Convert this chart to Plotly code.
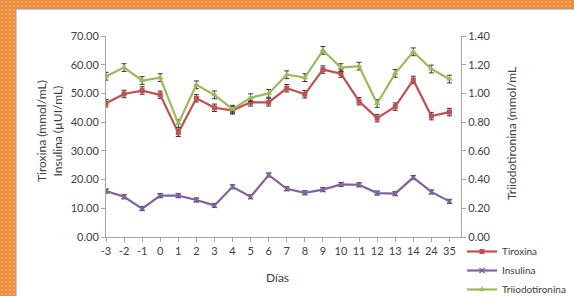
import plotly.graph_objects as go

W, H = 574, 296

dias = ["-3", "-2", "-1", "0", "1", "2", "3", "4", "5", "6", "7", "8", "9", "10", "11", "12", "13", "14", "24", "35"]
tiroxina = [46.6, 49.8, 51.0, 49.5, 36.3, 48.3, 45.0, 44.1, 46.9, 46.9, 51.8, 49.7, 58.3, 56.9, 47.3, 41.4, 45.4, 54.7, 42.1, 43.5]
tiroxina_err = [1.3] * 20
insulina = [16.0, 14.0, 9.9, 14.4, 14.4, 12.9, 11.0, 17.5, 14.0, 21.6, 16.8, 15.4, 16.5, 18.3, 18.2, 15.3, 15.1, 20.7, 15.7, 12.4]
insulina_err = [0.7] * 20
triiodo = [1.12, 1.18, 1.09, 1.11, 0.79, 1.06, 0.99, 0.89, 0.97, 1.00, 1.13, 1.11, 1.30, 1.18, 1.19, 0.93, 1.14, 1.29, 1.17, 1.10]
triiodo_err = [0.027] * 20

left_ticks = [0, 10, 20, 30, 40, 50, 60, 70]
right_ticks = [0, 0.2, 0.4, 0.6, 0.8, 1.0, 1.2, 1.4]

RED, PURPLE, GREEN = "#C0504D", "#8064A2", "#9BBB59"
TXT = "#404040"
FONT = "Lato"

def px(x):
    return x / W

def py(y):
    return 1 - y / H

fig = go.Figure()

def err(vals):
    return dict(type="data", array=vals, color="#3a3a3a", thickness=1, width=2.5)

fig.add_trace(go.Scatter(x=dias, y=tiroxina, name="Tiroxina", mode="lines+markers",
                         line=dict(color=RED, width=2.2),
                         marker=dict(symbol="square", size=5, color=RED),
                         error_y=err(tiroxina_err)))
fig.add_trace(go.Scatter(x=dias, y=insulina, name="Insulina", mode="lines+markers",
                         line=dict(color=PURPLE, width=2.2),
                         marker=dict(symbol="x-thin", size=5, color=PURPLE, line=dict(color=PURPLE, width=1.5)),
                         error_y=err(insulina_err)))
fig.add_trace(go.Scatter(x=dias, y=triiodo, name="Triiodotironina", mode="lines+markers",
                         line=dict(color=GREEN, width=2.2),
                         marker=dict(symbol="triangle-up", size=6, color=GREEN),
                         error_y=err(triiodo_err), yaxis="y2"))

# decorative dotted border pattern
bx, by = [], []
for yy in range(2, H, 4):
    for xx in range(2, 15, 4):
        bx.append(xx); by.append(yy)
for xx in range(18, W, 4):
    for yy in (2, 6):
        bx.append(xx); by.append(yy)
fig.add_trace(go.Scatter(x=bx, y=by, mode="markers", xaxis="x3", yaxis="y3",
                         marker=dict(symbol="square", size=1.6, color="#F7BC8A"),
                         hoverinfo="skip", showlegend=False))

axis_line = "#A6A6A6"
common = dict(showline=True, linecolor=axis_line, linewidth=1,
              ticks="outside", ticklen=4, tickcolor=axis_line,
              showgrid=False, zeroline=False, tickfont=dict(size=11, color=TXT),
              automargin=False)
fig.update_layout(
    width=W, height=H,
    margin=dict(l=0, r=0, t=0, b=0, autoexpand=False),
    paper_bgcolor="#EF8F3E",
    plot_bgcolor="rgba(0,0,0,0)",
    font=dict(family=FONT, size=11, color=TXT),
    showlegend=True,
    legend=dict(x=px(462), y=py(237), xanchor="left", yanchor="top",
                bgcolor="rgba(0,0,0,0)", font=dict(family=FONT, size=10, color=TXT),
                itemwidth=30, tracegroupgap=0),
    xaxis=dict(type="category", domain=[px(106), px(461)], range=[0, 19.64],
               anchor="y", **common),
    yaxis=dict(domain=[py(237), py(36)], range=[0, 70], tickvals=left_ticks,
               tickformat=".2f", **common),
    yaxis2=dict(domain=[py(237), py(36)], range=[0, 1.4], tickvals=right_ticks,
                tickformat=".2f", overlaying="y", side="right", anchor="x", **common),
    xaxis3=dict(domain=[0, 1], range=[0, W], visible=False, anchor="y3", fixedrange=True),
    yaxis3=dict(domain=[0, 1], range=[H, 0], visible=False, anchor="x3", fixedrange=True),
    shapes=[
        dict(type="rect", xref="paper", yref="paper", x0=px(16), x1=1.01, y0=-0.01, y1=py(9),
             fillcolor="white", line=dict(color="#9A9A9A", width=1), layer="below"),
    ],
    annotations=[
        dict(text="Días", x=px(277), y=py(277), xref="paper", yref="paper",
             xanchor="center", yanchor="middle",
             showarrow=False, font=dict(size=12, color=TXT)),
        dict(text="Tiroxina (mmol/mL)<br>Insulina (µUI/mL)", x=px(49), y=py(131),
             xref="paper", yref="paper", showarrow=False, textangle=-90,
             xanchor="center", yanchor="middle",
             font=dict(size=12, color=TXT)),
        dict(text="Triiodotironina (mmol/mL", x=px(512), y=py(134),
             xref="paper", yref="paper", showarrow=False, textangle=-90,
             xanchor="center", yanchor="middle",
             font=dict(size=12, color=TXT)),
    ],
)

fig.write_html("out.html", config={"displayModeBar": False},
               post_script="document.body.style.margin='0';document.body.style.padding='0';")
